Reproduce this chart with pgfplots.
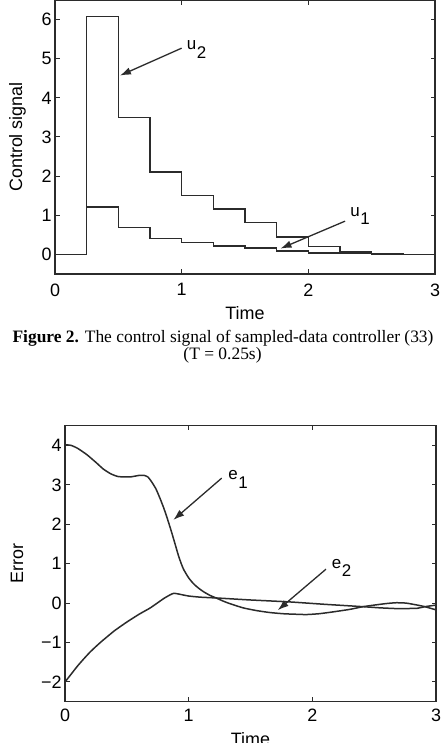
\documentclass[border=0pt]{standalone}
\usepackage{fontspec}
\setmainfont{Liberation Sans}
\newfontfamily\capfont{Liberation Serif}
\usepackage{pgfplots}
\pgfplotsset{compat=1.18}
\usetikzlibrary{arrows.meta}
\definecolor{ink}{HTML}{2B2B2B}
\newcommand{\lab}[2]{#1\kern0.6bp\raisebox{-8.5bp}{#2}}
\tikzset{
  annot/.style={font=\fontsize{17}{19}\selectfont, inner sep=0pt, anchor=base west},
  arr/.style={ink, line width=1.3bp, -{Latex[length=11bp,width=7.5bp]}},
}
\pgfplotsset{mstyle/.style={
  scale only axis,
  axis line style={ink, line width=1.5bp},
  tick style={ink, line width=1bp},
  major tick length=4.5bp,
  tick align=inside,
  xmin=0, xmax=3, xtick={0,1,2,3},
  tick label style={font=\fontsize{18}{20}\selectfont, text=black},
  /pgf/number format/assume math mode=true,
  label style={font=\fontsize{18}{20}\selectfont, text=black},
  every axis plot/.append style={ink, line width=1.5bp},
}}
\begin{document}
\begin{tikzpicture}
\path[use as bounding box] (0,0) rectangle (445bp,743bp);
% ---------- top plot ----------
\begin{axis}[mstyle,
  at={(55bp,469bp)}, anchor=south west,
  width=380bp, height=274bp,
  ymin=-0.5, ymax=6.5, ytick={0,1,2,3,4,5,6},
  xticklabel style={yshift=-6bp},
  ylabel={Control signal},
  ylabel style={at={(axis description cs:-0.0987,0.5)}, anchor=center},
  xlabel={Time},
  xlabel style={at={(axis description cs:0.5,-0.1423)}, anchor=center},
]
\addplot[const plot] coordinates {(0,0) (0.25,6.08) (0.5,3.5) (0.75,2.11) (1,1.5) (1.25,1.16) (1.5,0.82) (1.75,0.44) (2,0.2) (2.25,0.06) (2.5,0.02) (2.75,0) (3,0)};
\addplot[const plot] coordinates {(0,0) (0.25,1.21) (0.5,0.69) (0.75,0.41) (1,0.3) (1.25,0.22) (1.5,0.16) (1.75,0.09) (2,0.04) (2.25,0.02) (2.5,0.01) (2.75,0) (3,0)};
\draw[arr] (axis cs:1.0,5.27) -- (axis cs:0.513,4.57);
\node[annot] at (axis cs:1.04,5.23) {\lab{u}{2}};
\draw[arr] (axis cs:2.29,0.85) -- (axis cs:1.78,0.15);
\node[annot] at (axis cs:2.33,0.98) {\lab{u}{1}};
\end{axis}
% ---------- caption ----------
\node[anchor=base, inner sep=0pt, font=\capfont\fontsize{17.5}{20}\selectfont] at (223bp,400.3bp)
  {\textbf{Figure 2.} The control signal of sampled-data controller (33)};
\node[anchor=base, inner sep=0pt, font=\capfont\fontsize{17.5}{20}\selectfont] at (222.5bp,383.5bp)
  {(T = 0.25s)};
% ---------- bottom plot ----------
\begin{axis}[mstyle,
  at={(65bp,41.3bp)}, anchor=south west,
  width=371bp, height=276bp,
  ymin=-2.5, ymax=4.5, ytick={-2,-1,0,1,2,3,4},
  yticklabels={−2,−1,0,1,2,3,4},
  xticklabel style={yshift=-4bp},
  ylabel={Error},
  ylabel style={at={(axis description cs:-0.1294,0.5)}, anchor=center},
  xlabel={Time},
  xlabel style={at={(axis description cs:0.5,-0.1355)}, anchor=center},
]
\addplot[smooth, tension=0.3] coordinates {
(0,4.02) (0.05,4.0) (0.1,3.93) (0.175,3.77) (0.25,3.57) (0.31,3.40) (0.37,3.28) (0.43,3.21)
(0.525,3.2) (0.6,3.24) (0.64,3.24) (0.67,3.2) (0.70,3.08) (0.735,2.9) (0.768,2.66) (0.80,2.4)
(0.83,2.12) (0.86,1.82) (0.89,1.5) (0.916,1.22) (0.94,1.0) (0.96,0.85) (1.0,0.64) (1.04,0.49)
(1.08,0.38) (1.12,0.29) (1.17,0.2) (1.23,0.12) (1.28,0.05) (1.33,-0.01) (1.44,-0.12)
(1.55,-0.19) (1.66,-0.24) (1.77,-0.27) (1.85,-0.28) (1.95,-0.29) (2.05,-0.27) (2.15,-0.23)
(2.3,-0.16) (2.41,-0.09) (2.5,-0.05) (2.6,-0.01) (2.68,0.01) (2.76,0.0) (2.85,-0.05)
(2.91,-0.09) (3.0,-0.17)};
\addplot[smooth, tension=0.3] coordinates {
(0,-2.0) (0.05,-1.8) (0.1,-1.6) (0.15,-1.42) (0.2,-1.25) (0.25,-1.1) (0.3,-0.96) (0.4,-0.7)
(0.5,-0.48) (0.6,-0.28) (0.69,-0.12) (0.8,0.12) (0.85,0.21) (0.88,0.25) (0.92,0.23) (1.0,0.18)
(1.1,0.15) (1.23,0.13) (1.39,0.1) (1.5,0.08) (1.82,0.03) (2.1,-0.03) (2.41,-0.09) (2.55,-0.12)
(2.7,-0.14) (2.85,-0.13) (2.91,-0.09) (3.0,-0.05)};
\draw[arr] (axis cs:1.267,3.17) -- (axis cs:0.876,2.11);
\node[annot] at (axis cs:1.32,3.13) {\lab{e}{1}};
\draw[arr] (axis cs:2.11,0.86) -- (axis cs:1.72,-0.18);
\node[annot] at (axis cs:2.156,0.88) {\lab{e}{2}};
\end{axis}
\end{tikzpicture}
\end{document}
